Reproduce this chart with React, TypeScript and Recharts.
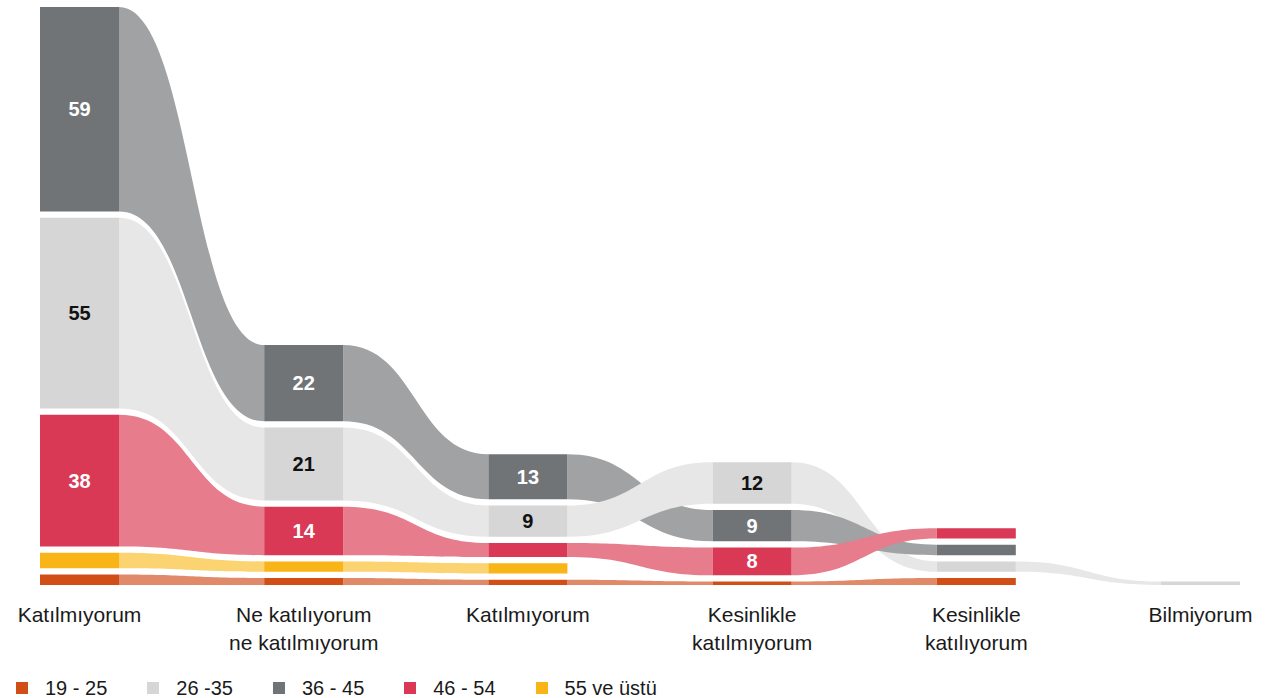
import { ComposedChart, Area, Scatter, XAxis, YAxis, Legend } from 'recharts'

const categories = [
  'Katılmıyorum',
  'Ne katılıyorum\nne katılmıyorum',
  'Katılmıyorum',
  'Kesinlikle\nkatılmıyorum',
  'Kesinlikle\nkatılıyorum',
  'Bilmiyorum',
]
const ageGroups = ['19 - 25', '26 -35', '36 - 45', '46 - 54', '55 ve üstü']

// share of each age group per answer (0 = group not present)
const age19to25 = [3, 2, 1.5, 1, 2, 0]
const age26to35 = [55, 21, 9, 12, 3, 1]
const age36to45 = [59, 22, 13, 9, 3, 0]
const age46to54 = [38, 14, 4, 8, 3, 0]
const age55plus = [4.5, 3, 3, 0, 0, 0]

const shares = [age19to25, age26to35, age36to45, age46to54, age55plus]

const barColors = ['#d14e17', '#d5d6d5', '#717477', '#d93955', '#f9b417']
const ribbonColors = ['#e08a69', '#e7e7e7', '#a1a2a4', '#e77c8d', '#fbd370']

const FONT = '"Liberation Sans", Arial, Helvetica, sans-serif'
const GAP = 1.8 // white space between stacked blocks, in value units
const HALF_BAR = 0.1762 // half block width, in column units
const MIN_LABEL = 8

type Range = [number, number] | null

// stack every column with the smallest group at the bottom
const ranges: Range[][] = shares.map(() => categories.map(() => null))
categories.forEach((_, c) => {
  const present = shares
    .map((_, s) => s)
    .filter(s => shares[s][c] > 0)
    .sort((a, b) => shares[a][c] - shares[b][c])
  let y = 0
  present.forEach((s, k) => {
    if (k > 0) y += GAP
    ranges[s][c] = [y, y + shares[s][c]]
    y += shares[s][c]
  })
})

const yMax = Math.max(
  ...categories.map((_, c) => Math.max(...ranges.map(r => (r[c] ? r[c]![1] : 0))))
)

const lastCol = categories.length - 1

// two rows per column: left and right edge of the block
const rows = categories.flatMap((_, c) =>
  [-1, 1].map(side => {
    const row: Record<string, any> = { x: c + side * HALF_BAR }
    shares.forEach((_, s) => {
      if (ranges[s][c]) row[`bar${s}_${c}`] = ranges[s][c]
      const seg = side === 1 ? c : c - 1
      if (seg >= 0 && seg < lastCol && ranges[s][seg] && ranges[s][seg + 1]) {
        row[`rib${s}_${seg}`] = ranges[s][c]
      }
    })
    return row
  })
)

// ribbons ending higher are drawn on top
const ribbons = categories.slice(0, -1).flatMap((_, seg) =>
  shares
    .map((_, s) => s)
    .filter(s => ranges[s][seg] && ranges[s][seg + 1])
    .sort((a, b) => ranges[a][seg + 1]![0] - ranges[b][seg + 1]![0])
    .map(s => ({ key: `rib${s}_${seg}`, s }))
)

const blocks = categories.flatMap((_, c) =>
  shares.map((_, s) => s).filter(s => ranges[s][c]).map(s => ({ key: `bar${s}_${c}`, s }))
)

const labels = categories.flatMap((_, c) =>
  shares
    .map((_, s) => s)
    .filter(s => shares[s][c] >= MIN_LABEL)
    .map(s => ({
      x: c,
      y: (ranges[s][c]![0] + ranges[s][c]![1]) / 2,
      text: String(shares[s][c]),
      fill: s === 1 ? '#111111' : '#ffffff',
    }))
)

function CategoryTick(props: any) {
  const { x, y, payload } = props
  const lines = categories[payload.value].split('\n')
  return (
    <text x={x} y={y} textAnchor="middle" fontSize={21} fill="#1a1a1a" fontFamily={FONT}>
      {lines.map((line, k) => (
        <tspan key={k} x={x} dy={k === 0 ? 37 : 28}>
          {line}
        </tspan>
      ))}
    </text>
  )
}

function AgeLegend() {
  return (
    <div
      style={{
        display: 'flex',
        alignItems: 'center',
        paddingLeft: 16,
        fontFamily: FONT,
        fontSize: 20,
        lineHeight: '24px',
        color: '#1a1a1a',
      }}
    >
      {ageGroups.map((g, i) => (
        <div key={g} style={{ display: 'flex', alignItems: 'center', marginRight: 40 }}>
          <span
            style={{ width: 12, height: 12, background: barColors[i], marginRight: 17, display: 'inline-block' }}
          />
          {g}
        </div>
      ))}
    </div>
  )
}

function BlockLabel(props: any) {
  const { cx, cy, payload } = props
  return (
    <text
      x={cx}
      y={cy}
      dy={7}
      textAnchor="middle"
      fontSize={20}
      fontWeight="bold"
      fill={payload.fill}
      fontFamily={FONT}
    >
      {payload.text}
    </text>
  )
}

export default function App() {
  return (
    <div style={{ width: 1277, height: 698, position: 'relative' }}>
      <style>{'body{margin:0;background:#fff}'}</style>
      <ComposedChart
        width={1277}
        height={698}
        data={rows}
        margin={{ top: 7, right: 37, bottom: 0, left: 40 }}
      >
        <XAxis
          type="number"
          dataKey="x"
          domain={[-HALF_BAR, lastCol + HALF_BAR]}
          ticks={categories.map((_, i) => i)}
          interval={0}
          allowDataOverflow
          axisLine={false}
          tickLine={false}
          tickSize={0}
          tickMargin={0}
          height={113}
          tick={<CategoryTick />}
        />
        <YAxis hide type="number" domain={[0, yMax]} allowDataOverflow />
        {ribbons.map(r => (
          <Area
            key={r.key}
            dataKey={r.key}
            type="bumpX"
            stroke="none"
            fill={ribbonColors[r.s]}
            fillOpacity={1}
            dot={false}
            activeDot={false}
            isAnimationActive={false}
          />
        ))}
        {blocks.map(b => (
          <Area
            key={b.key}
            dataKey={b.key}
            type="linear"
            stroke="none"
            fill={barColors[b.s]}
            fillOpacity={1}
            dot={false}
            activeDot={false}
            isAnimationActive={false}
          />
        ))}
        <Scatter data={labels} dataKey="y" shape={<BlockLabel />} isAnimationActive={false} />
        <Legend
          layout="horizontal"
          verticalAlign="middle"
          align="center"
          wrapperStyle={{ top: 676, left: 0, width: 800 }}
          content={() => <AgeLegend />}
        />
      </ComposedChart>
    </div>
  )
}
